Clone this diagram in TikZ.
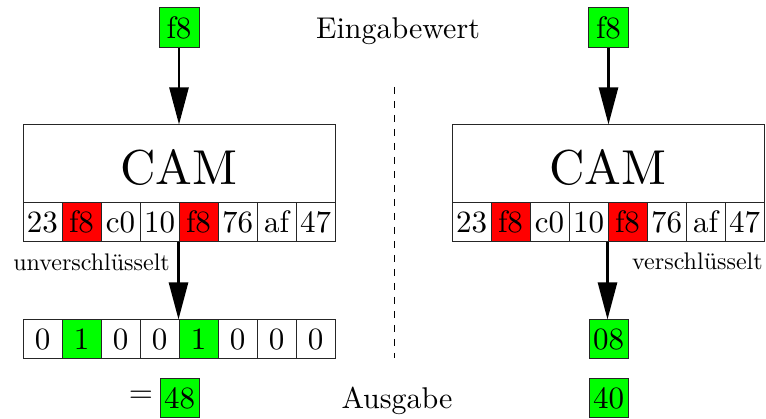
\documentclass[tikz,border=0pt]{standalone}
\usepackage{fontspec}
\setmainfont{lmroman10-regular}[Extension=.otf]
\usetikzlibrary{arrows.meta}
\definecolor{vgreen}{RGB}{0,255,0}
\definecolor{vred}{RGB}{255,0,0}
\begin{document}
\begin{tikzpicture}[x=1pt,y=-1pt,
  cell/.style={draw=black!85,line width=1pt,minimum width=39pt,minimum height=39pt,inner sep=0pt,
    font=\fontsize{31}{31}\selectfont,text height=21pt,text depth=0pt},
  gbox/.style={cell,fill=vgreen,minimum width=40pt,minimum height=40pt},
  cambox/.style={draw=black!85,line width=1pt,minimum width=312pt,minimum height=78pt,inner sep=0pt,
    font=\fontsize{49}{49}\selectfont,text height=42pt,text depth=0pt},
  lbl/.style={font=\fontsize{30}{30}\selectfont,inner sep=0pt,anchor=base},
  slbl/.style={font=\fontsize{24}{24}\selectfont,inner sep=0pt},
  arr/.style={line width=2.5pt,-{Triangle[length=37pt,width=19pt]}},
  sep/.style={line width=1pt,dash pattern=on 7pt off 7pt}]
\useasboundingbox (0,0) rectangle (766,419);

% left side
\node[gbox] (inL) at (179,28) {f8};
\node[cambox] (camL) at (179,164) {CAM};
\foreach \t/\c [count=\i from 0] in {23/white,f8/vred,c0/white,10/white,f8/vred,76/white,af/white,47/white}
  \node[cell,fill=\c] (L\i) at (42.5+39*\i,222.5) {\t};
\foreach \t/\c [count=\i from 0] in {0/white,1/vgreen,0/white,0/white,1/vgreen,0/white,0/white,0/white}
  \node[cell,fill=\c] (B\i) at (42.5+39*\i,339.5) {\t};
\node[font=\fontsize{31}{31}\selectfont,inner sep=0pt] (eq) at (141,397) {=};
\node[gbox,minimum width=39pt,minimum height=39pt] (outL) at (179.5,398.5) {48};

% right side
\node[gbox] (inR) at (608.5,28) {f8};
\node[cambox] (camR) at (608,164) {CAM};
\foreach \t/\c [count=\i from 0] in {23/white,f8/vred,c0/white,10/white,f8/vred,76/white,af/white,47/white}
  \node[cell,fill=\c] (R\i) at (471.5+39*\i,222.5) {\t};
\node[gbox,minimum width=39pt,minimum height=39pt] (midR) at (608.5,339.5) {08};
\node[gbox,minimum width=39pt,minimum height=39pt] (outR) at (608.5,398.5) {40};

% labels
\node[lbl] (ein) at (398,39) {Eingabewert};
\node[lbl] (aus) at (397,409) {Ausgabe};
\node[slbl,anchor=base east] (unv) at (170,271) {unverschlüsselt};
\node[slbl,anchor=base west] (ver) at (632,270) {verschlüsselt};

% arrows
\draw[arr] (inL.south) -- (camL.north);
\draw[arr] (inR.south) -- (camR.north -| inR.south);
\draw[arr] (L4.south west) -- (B4.north west);
\draw[arr] (R4.south west) -- (R4.south west |- midR.north);

% separator
\coordinate (s1) at (394,87);
\coordinate (s2) at (394,358);
\draw[sep] (s1) -- (s2);
\end{tikzpicture}
\end{document}
